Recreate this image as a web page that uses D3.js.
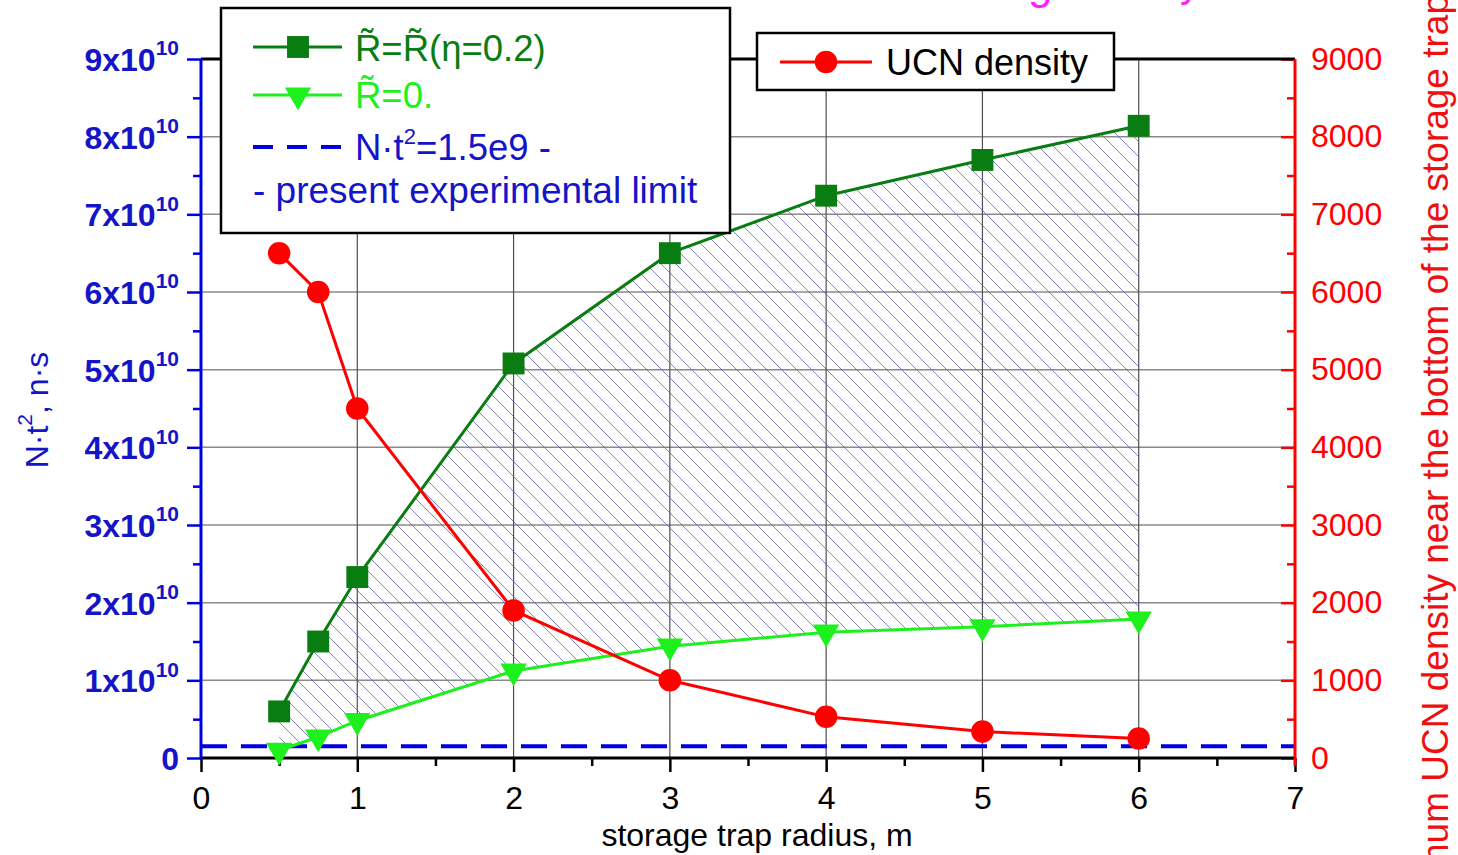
<!DOCTYPE html>
<html>
<head>
<meta charset="utf-8">
<script src="https://cdn.jsdelivr.net/npm/d3@7"></script>
<style>
body { margin: 0; background: #fff; }
svg { font-family: "Liberation Sans", Arial, sans-serif; }
</style>
</head>
<body>
<svg width="1458" height="855"></svg>
<script>
// data
const radius = [0.5, 0.75, 1, 2, 3, 4, 5, 6];
const ntEta = [0.6e10, 1.5e10, 2.33e10, 5.08e10, 6.5e10, 7.24e10, 7.7e10, 8.14e10];   // R~=R~(eta=0.2)
const ntZero = [0.1e10, 0.27e10, 0.48e10, 1.12e10, 1.44e10, 1.62e10, 1.69e10, 1.79e10]; // R~=0.
const ucnDensity = [6500, 6000, 4500, 1900, 1000, 530, 340, 250];
const limitNt = 1.5e9;

const xMajor = [0, 1, 2, 3, 4, 5, 6, 7];
const xMinor = [0.5, 1.5, 2.5, 3.5, 4.5, 5.5, 6.5];
const leftMajor = [0, 1, 2, 3, 4, 5, 6, 7, 8, 9];        // x10^10
const leftMinor = [0.5, 1.5, 2.5, 3.5, 4.5, 5.5, 6.5, 7.5, 8.5];
const rightMajor = [0, 1000, 2000, 3000, 4000, 5000, 6000, 7000, 8000, 9000];
const rightMinor = [500, 1500, 2500, 3500, 4500, 5500, 6500, 7500, 8500];

const colors = {dark: '#0a7d12', light: '#1ef01e', red: '#ff0000', blue: '#0000e0', axisBlue: '#1414c8'};

const $svg = d3.select('svg');

// plot frame
const margin = {top: 59, bottom: 97, left: 201, right: 163};
const width = 1458 - margin.left - margin.right;
const height = 855 - margin.top - margin.bottom;

const scaleX = d3.scaleLinear().domain([0, 7]).range([0, width]);
const scaleY = d3.scaleLinear().domain([0, 9e10]).range([height, 0]);
const scaleY2 = d3.scaleLinear().domain([0, 9000]).range([height, 0]);

// hatch pattern for the area between the two green curves
const defs = $svg.append('defs');
const hatch = defs.append('pattern')
	.attr('id', 'hatch')
	.attr('patternUnits', 'userSpaceOnUse')
	.attr('width', 15)
	.attr('height', 15);
hatch.append('path')
	.attr('d', 'M-2,-2L17,17M-8,7L2,17M7,-8L17,2')
	.attr('stroke', '#5a5ab0')
	.attr('stroke-width', 1)
	.attr('stroke-opacity', 0.75);

const $vis = $svg.append('g')
	.attr('transform', 'translate(' + margin.left + ',' + margin.top + ')');

// grid
$vis.append('g').selectAll('line')
	.data(leftMajor.slice(1, -1))
	.join('line')
	.attr('x1', 0).attr('x2', width)
	.attr('y1', d => scaleY(d * 1e10)).attr('y2', d => scaleY(d * 1e10))
	.attr('stroke', '#8a8a8a').attr('stroke-width', 1.5);
$vis.append('g').selectAll('line')
	.data(xMajor.slice(1, -1))
	.join('line')
	.attr('x1', d => scaleX(d)).attr('x2', d => scaleX(d))
	.attr('y1', 0).attr('y2', height)
	.attr('stroke', '#505050').attr('stroke-width', 1.2);

// hatched band
const bandData = radius.map((r, i) => ({r: r, lo: ntZero[i], hi: ntEta[i]}));
$vis.append('path')
	.datum(bandData)
	.attr('fill', 'url(#hatch)')
	.attr('d', d3.area().x(d => scaleX(d.r)).y0(d => scaleY(d.lo)).y1(d => scaleY(d.hi)));

// present experimental limit
$vis.append('line')
	.attr('x1', 0).attr('x2', width)
	.attr('y1', scaleY(limitNt)).attr('y2', scaleY(limitNt))
	.attr('stroke', colors.blue).attr('stroke-width', 4)
	.attr('stroke-dasharray', '26,14');

// axes
function styleAxis(g, color) {
	g.attr('font-size', null).attr('font-family', null);
	g.select('.domain').remove();
	g.selectAll('.tick line').attr('stroke', color).attr('stroke-width', 2.5);
	g.selectAll('.tick text').attr('fill', color).attr('font-size', 32);
}

// bottom
$vis.append('g')
	.attr('transform', 'translate(0,' + height + ')')
	.call(d3.axisBottom(scaleX).tickValues(xMinor).tickSize(8).tickFormat(''))
	.call(g => styleAxis(g, '#000'));
$vis.append('g')
	.attr('transform', 'translate(0,' + height + ')')
	.call(d3.axisBottom(scaleX).tickValues(xMajor).tickSize(14).tickPadding(14).tickFormat(d3.format('d')))
	.call(g => styleAxis(g, '#000'));

// left
$vis.append('g')
	.call(d3.axisLeft(scaleY).tickValues(leftMinor.map(d => d * 1e10)).tickSize(8).tickFormat(''))
	.call(g => styleAxis(g, colors.blue));
const $left = $vis.append('g')
	.call(d3.axisLeft(scaleY).tickValues(leftMajor.map(d => d * 1e10)).tickSize(14).tickPadding(8).tickFormat(''))
	.call(g => styleAxis(g, colors.blue));
$left.selectAll('.tick text')
	.attr('fill', colors.axisBlue)
	.attr('font-weight', 'bold')
	.attr('dy', '0.36em')
	.each(function(d) {
		const t = d3.select(this);
		const k = Math.round(d / 1e10);
		if (k === 0) { t.text('0'); return; }
		t.append('tspan').text(k + 'x10');
		t.append('tspan').attr('font-size', 21).attr('dy', '-0.75em').text('10');
	});

// right
$vis.append('g')
	.attr('transform', 'translate(' + width + ',0)')
	.call(d3.axisRight(scaleY2).tickValues(rightMinor).tickSizeInner(-8).tickSizeOuter(0).tickFormat(''))
	.call(g => styleAxis(g, colors.red));
$vis.append('g')
	.attr('transform', 'translate(' + width + ',0)')
	.call(d3.axisRight(scaleY2).tickValues(rightMajor).tickSizeInner(-14).tickSizeOuter(0).tickPadding(16).tickFormat(d3.format('d')))
	.call(g => styleAxis(g, colors.red));

// frame lines
$vis.append('line').attr('x1', 0).attr('x2', width).attr('y1', 0).attr('y2', 0)
	.attr('stroke', '#000').attr('stroke-width', 3);
$vis.append('line').attr('x1', 0).attr('x2', width).attr('y1', height).attr('y2', height)
	.attr('stroke', '#000').attr('stroke-width', 3);
$vis.append('line').attr('x1', 0).attr('x2', 0).attr('y1', 0).attr('y2', height + 1.5)
	.attr('stroke', colors.blue).attr('stroke-width', 3);
$vis.append('line').attr('x1', width).attr('x2', width).attr('y1', 0).attr('y2', height + 8)
	.attr('stroke', colors.red).attr('stroke-width', 3);

// series
const sqSym = d3.symbol().type(d3.symbolSquare).size(480);
const triSym = d3.symbol().type(d3.symbolTriangle).size(300);
const dotSym = d3.symbol().type(d3.symbolCircle).size(400);

function drawSeries(values, yScale, color, sym, flip) {
	const g = $vis.append('g');
	g.append('path')
		.datum(values)
		.attr('fill', 'none')
		.attr('stroke', color)
		.attr('stroke-width', 3)
		.attr('d', d3.line().x((d, i) => scaleX(radius[i])).y(d => yScale(d)));
	g.selectAll('path.mark')
		.data(values)
		.join('path')
		.attr('class', 'mark')
		.attr('fill', color)
		.attr('d', sym)
		.attr('transform', (d, i) => 'translate(' + scaleX(radius[i]) + ',' + yScale(d) + ')' + (flip ? ' rotate(180)' : ''));
}
drawSeries(ntEta, scaleY, colors.dark, sqSym, false);
drawSeries(ntZero, scaleY, colors.light, triSym, true);
drawSeries(ucnDensity, scaleY2, colors.red, dotSym, false);

// axis titles
$svg.append('text')
	.attr('x', 757).attr('y', 846)
	.attr('text-anchor', 'middle')
	.attr('font-size', 32)
	.text('storage trap radius, m');

const $yTitle = $svg.append('text')
	.attr('transform', 'translate(48,410) rotate(-90)')
	.attr('text-anchor', 'middle')
	.attr('font-size', 32)
	.attr('fill', colors.axisBlue);
$yTitle.append('tspan').text('N\u00b7t');
$yTitle.append('tspan').attr('font-size', 21).attr('dy', '-0.75em').text('2');
$yTitle.append('tspan').attr('dy', '0.5em').text(', n\u00b7s');

$svg.append('text')
	.attr('transform', 'translate(1448,-6) rotate(-90)')
	.attr('text-anchor', 'end')
	.attr('font-size', 37)
	.attr('fill', '#ee1010')
	.text('Maximum UCN density near the bottom of the storage trap');

// cut-off magenta caption at the very top
$svg.append('text').attr('x', 1028).attr('y', -1).attr('font-size', 44).attr('fill', '#ff20ff').text('g');
$svg.append('text').attr('x', 1180).attr('y', -3).attr('font-size', 40).attr('fill', '#ff20ff').text('y');

// legend 1
const leg1 = $svg.append('g');
leg1.append('rect').attr('x', 221).attr('y', 8).attr('width', 509).attr('height', 225)
	.attr('fill', '#fff').attr('stroke', '#000').attr('stroke-width', 2.5);
const leg1Rows = [
	{y: 47, color: colors.dark, sym: sqSym, flip: false},
	{y: 95, color: colors.light, sym: triSym, flip: true}
];
leg1Rows.forEach(r => {
	leg1.append('line').attr('x1', 253).attr('x2', 342).attr('y1', r.y).attr('y2', r.y)
		.attr('stroke', r.color).attr('stroke-width', 3);
	leg1.append('path').attr('d', r.sym).attr('fill', r.color)
		.attr('transform', 'translate(298,' + r.y + ')' + (r.flip ? ' rotate(180)' : ''));
});
leg1.append('line').attr('x1', 253).attr('x2', 342).attr('y1', 147).attr('y2', 147)
	.attr('stroke', colors.blue).attr('stroke-width', 4).attr('stroke-dasharray', '20,14');
leg1.append('text').attr('x', 355).attr('y', 61).attr('font-size', 36.5).attr('fill', colors.dark)
	.text('R\u0303=R\u0303(\u03b7=0.2)');
leg1.append('text').attr('x', 355).attr('y', 108).attr('font-size', 36.5).attr('fill', colors.light)
	.text('R\u0303=0.');
const lt = leg1.append('text').attr('x', 355).attr('y', 160).attr('font-size', 36.5).attr('fill', colors.axisBlue);
lt.append('tspan').text('N\u00b7t');
lt.append('tspan').attr('font-size', 22).attr('dy', '-0.75em').text('2');
lt.append('tspan').attr('dy', '0.46em').text('=1.5e9 -');
leg1.append('text').attr('x', 253).attr('y', 203).attr('font-size', 37).attr('fill', colors.axisBlue)
	.text('- present experimental limit');

// legend 2
const leg2 = $svg.append('g');
leg2.append('rect').attr('x', 757).attr('y', 33).attr('width', 357).attr('height', 57)
	.attr('fill', '#fff').attr('stroke', '#000').attr('stroke-width', 2.5);
leg2.append('line').attr('x1', 780).attr('x2', 872).attr('y1', 62).attr('y2', 62)
	.attr('stroke', colors.red).attr('stroke-width', 3);
leg2.append('path').attr('d', dotSym).attr('fill', colors.red).attr('transform', 'translate(826,62)');
leg2.append('text').attr('x', 886).attr('y', 75).attr('font-size', 36).attr('fill', '#000')
	.text('UCN density');
</script>
</body>
</html>
